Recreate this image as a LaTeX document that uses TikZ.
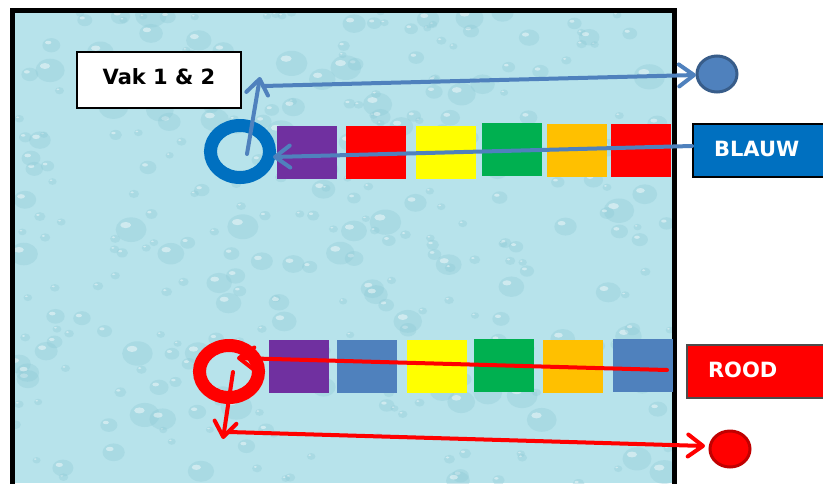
\documentclass[tikz,border=0pt]{standalone}
\usepackage{fontspec}
\setmainfont{DejaVu Sans}
\usetikzlibrary{arrows.meta,shapes.geometric}
\definecolor{water}{HTML}{B7E3EB}
\definecolor{dropc}{HTML}{8FCAD6}
\definecolor{ringblue}{HTML}{0070C0}
\definecolor{lineblue}{HTML}{4F81BD}
\definecolor{dotborder}{HTML}{385D8A}
\definecolor{cpurple}{HTML}{7030A0}
\definecolor{cred}{HTML}{FF0000}
\definecolor{cyellow}{HTML}{FFFF00}
\definecolor{cgreen}{HTML}{00B050}
\definecolor{corange}{HTML}{FFC000}
\definecolor{cblue}{HTML}{4F81BD}
\definecolor{darkred}{HTML}{C00000}
\begin{document}
\begin{tikzpicture}[x=1pt,y=-1pt,
  sq/.style={minimum width=60pt,minimum height=53pt,inner sep=0pt,outer sep=0pt},
  ring/.style={ellipse,line width=13pt,minimum width=59pt,minimum height=52pt,inner sep=0pt},
  dot/.style={ellipse,line width=3pt,minimum width=40pt,minimum height=36pt,inner sep=0pt},
  arr/.style={line width=4pt,line cap=round,line join=round,-{Straight Barb[length=15pt,width=22pt,line cap=round,line join=round]}},
  lbl/.style={font=\fontsize{21}{24}\selectfont\bfseries,line width=2pt,minimum height=53pt,text width=110pt,align=left,inner xsep=21pt,anchor=west}
]
\useasboundingbox (0,0) rectangle (823,483);
\fill[white] (0,0) rectangle (823,483);
% water background
\begin{scope}
\clip (12,10) rectangle (675,483);
\fill[water] (12,10) rectangle (675,483);
\pgfmathsetseed{11}
\foreach \i in {1,...,320}{
  \pgfmathsetmacro\xx{15+660*rnd}
  \pgfmathsetmacro\yy{12+472*rnd}
  \pgfmathsetmacro\rr{4+12*rnd^2}
  \fill[dropc,opacity=0.35] (\xx,\yy) ellipse ({\rr} and {0.8*\rr});
  \fill[white,opacity=0.45] (\xx-0.35*\rr,\yy-0.3*\rr) ellipse ({0.35*\rr} and {0.2*\rr});
}
\end{scope}
\draw[line width=5pt] (12.5,10.5) rectangle (674.5,490);

% label boxes
\node[draw,fill=white,line width=2pt,minimum width=164pt,minimum height=56pt,
  font=\fontsize{21}{24}\selectfont\bfseries,text height=16pt,text depth=8pt] (vak) at (159,80) {Vak 1 \& 2};
\node[lbl,draw=black,fill=ringblue,text=white,text height=15pt,text depth=2.6pt] (blauw) at (692,150.5) {BLAUW};
\node[lbl,draw=black!70,fill=cred,text=white,text height=15pt,text depth=4pt] (rood) at (686,371.5) {ROOD};

% top row
\node[ring,draw=ringblue] (bring) at (240,151.5) {};
\node[sq,fill=cpurple] (t1) at (307,152.5) {};
\node[sq,fill=cred] (t2) at (376,152.5) {};
\node[sq,fill=cyellow] (t3) at (446,152.5) {};
\node[sq,fill=cgreen] (t4) at (512,149.5) {};
\node[sq,fill=corange] (t5) at (577,150.5) {};
\node[sq,fill=cred] (t6) at (641,150.5) {};
\node[dot,fill=lineblue,draw=dotborder] (bdot) at (717,74) {};

% bottom row
\node[ring,draw=cred] (rring) at (229,371.5) {};
\node[sq,fill=cpurple] (u1) at (299,366.5) {};
\node[sq,fill=cblue] (u2) at (367,366.5) {};
\node[sq,fill=cyellow] (u3) at (437,366.5) {};
\node[sq,fill=cgreen] (u4) at (504,365.5) {};
\node[sq,fill=corange] (u5) at (573,366.5) {};
\node[sq,fill=cblue] (u6) at (643,365.5) {};
\node[dot,fill=cred,draw=darkred] (rdot) at (730,449) {};

% blue connectors
\coordinate (b1s) at (247,154);
\coordinate (b1e) at (260,77);
\coordinate (b2s) at (263,86);
\coordinate (b2e) at (696,75);
\coordinate (b3s) at (692,146);
\coordinate (b3e) at (273,157);
\draw[arr,lineblue] (b1s) -- (b1e);
\draw[arr,lineblue] (b2s) -- (b2e);
\draw[arr,lineblue] (b3s) -- (b3e);

% red connectors
\coordinate (r1s) at (667,370);
\coordinate (r1e) at (237,358);
\coordinate (r2s) at (233,372);
\coordinate (r2e) at (223,439);
\coordinate (r3s) at (229,432);
\coordinate (r3e) at (705,446);
\draw[arr,cred] (r1s) -- (r1e);
\draw[arr,cred] (r2s) -- (r2e);
\draw[arr,cred] (r3s) -- (r3e);
\end{tikzpicture}
\end{document}
